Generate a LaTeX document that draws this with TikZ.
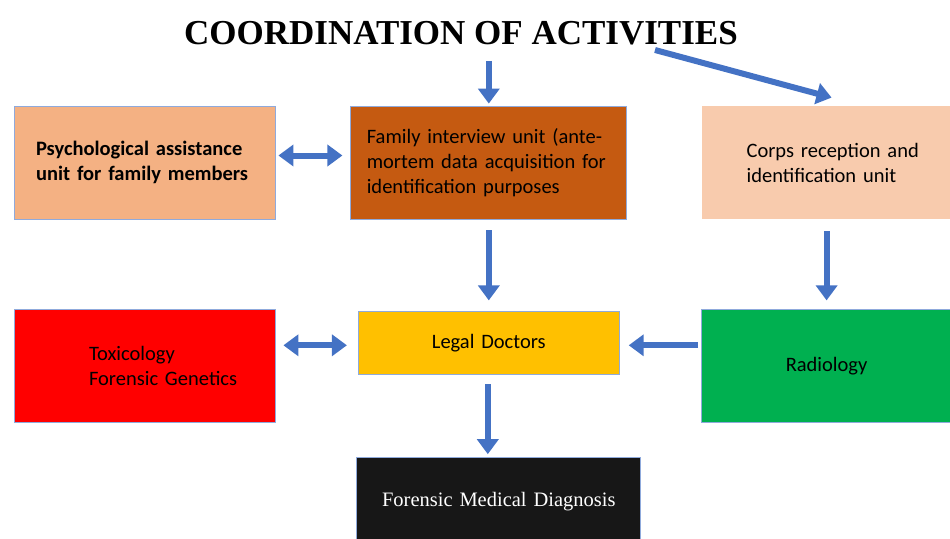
\documentclass[tikz,border=0pt]{standalone}
\usepackage{fontspec}
\setmainfont{Carlito}
\newfontfamily\timesfont{Liberation Serif}
\usetikzlibrary{arrows.meta, positioning}

\definecolor{psyc}{HTML}{F4B183}
\definecolor{famc}{HTML}{C55A11}
\definecolor{corpsc}{HTML}{F8CBAD}
\definecolor{toxc}{HTML}{FF0000}
\definecolor{legc}{HTML}{FFC000}
\definecolor{radc}{HTML}{00B050}
\definecolor{diagc}{HTML}{171717}
\definecolor{arrowc}{HTML}{4472C4}
\definecolor{edgec}{HTML}{8FAADC}

\begin{document}
\begin{tikzpicture}[x=1pt,y=1pt,font=\fontsize{20.5}{25}\selectfont,
	>={Triangle[length=15pt,width=21pt]},line width=6pt]

	\tikzset{box/.style={rectangle, draw=edgec, line width=0.8pt,
			minimum height=113pt, inner ysep=0pt}}
	\tikzset{arr/.style={->, draw=arrowc, line width=6pt}}
	\tikzset{darr/.style={<->, draw=arrowc, line width=6pt}}

	\useasboundingbox (0,0) rectangle (950,-538);

	\node[inner sep=0pt, font=\timesfont\bfseries\fontsize{35}{40}\selectfont] (Title) at (461,-33) {COORDINATION OF ACTIVITIES};
	\coordinate (diagStart) at (655,-50);

	% first row
	\node[box, fill=psyc, text width=217pt, inner xsep=22pt, align=left, font=\bfseries\fontsize{20.5}{25}\selectfont] (Psy) at (144.5,-162.5) {\mbox{Psychological assistance}\\\mbox{unit for family members}};
	\node[box, fill=famc, text width=244pt, inner xsep=16pt, align=left, right=75pt of Psy] (Fam) {\mbox{Family interview unit (ante-}\\\mbox{mortem data acquisition for}\\\mbox{identification purposes}};
	\node[box, draw=none, fill=corpsc, text width=160pt, inner xsep=45pt, align=left, right=74pt of Fam] (Corps) {\mbox{Corps reception and}\\\mbox{identification unit}};

	% second row
	\node[box, fill=toxc, text width=111pt, inner xsep=75pt, align=left, below=90pt of Psy] (Tox) {\mbox{Toxicology}\\\mbox{Forensic Genetics}};
	\node[box, fill=legc, minimum height=63pt, text width=231pt, inner xsep=15pt, align=center, below=92pt of Fam] (Leg) {Legal Doctors};
	\node[box, fill=radc, text width=220pt, inner xsep=15pt, align=center, below=90pt of Corps] (Rad) {Radiology};

	% third row
	\node[box, fill=diagc, minimum height=88pt, text width=254pt, inner xsep=15pt, align=center, text=white, font=\timesfont\fontsize{20.5}{24}\selectfont, below=82pt of Leg, xshift=10pt] (Diag) {Forensic Medical Diagnosis};

	\draw[arr, shorten <=13pt, shorten >=2pt] (Fam.north |- Title.south) -- (Fam.north);
	\draw[arr] (diagStart) -- ([xshift=5pt,yshift=8pt]Corps.north);
	\draw[darr, shorten <=3pt, shorten >=8pt] ([yshift=7pt]Psy.east) -- ([yshift=7pt]Psy.east -| Fam.west);
	\draw[arr, shorten <=11pt, shorten >=11pt] (Fam.south) -- (Leg.north);
	\draw[arr, shorten <=12pt, shorten >=9pt] (Corps.south) -- (Rad.north);
	\draw[darr, shorten <=11pt, shorten >=8pt] ([yshift=-2pt]Leg.west) -- ([yshift=-2pt]Leg.west -| Tox.east);
	\draw[arr, shorten <=3pt, shorten >=9pt] ([yshift=-2pt]Leg.east -| Rad.west) -- ([yshift=-2pt]Leg.east);
	\draw[arr, shorten <=9pt, shorten >=3pt] ([xshift=-1pt]Leg.south) -- ([xshift=-1pt]Leg.south |- Diag.north);
\end{tikzpicture}
\end{document}
